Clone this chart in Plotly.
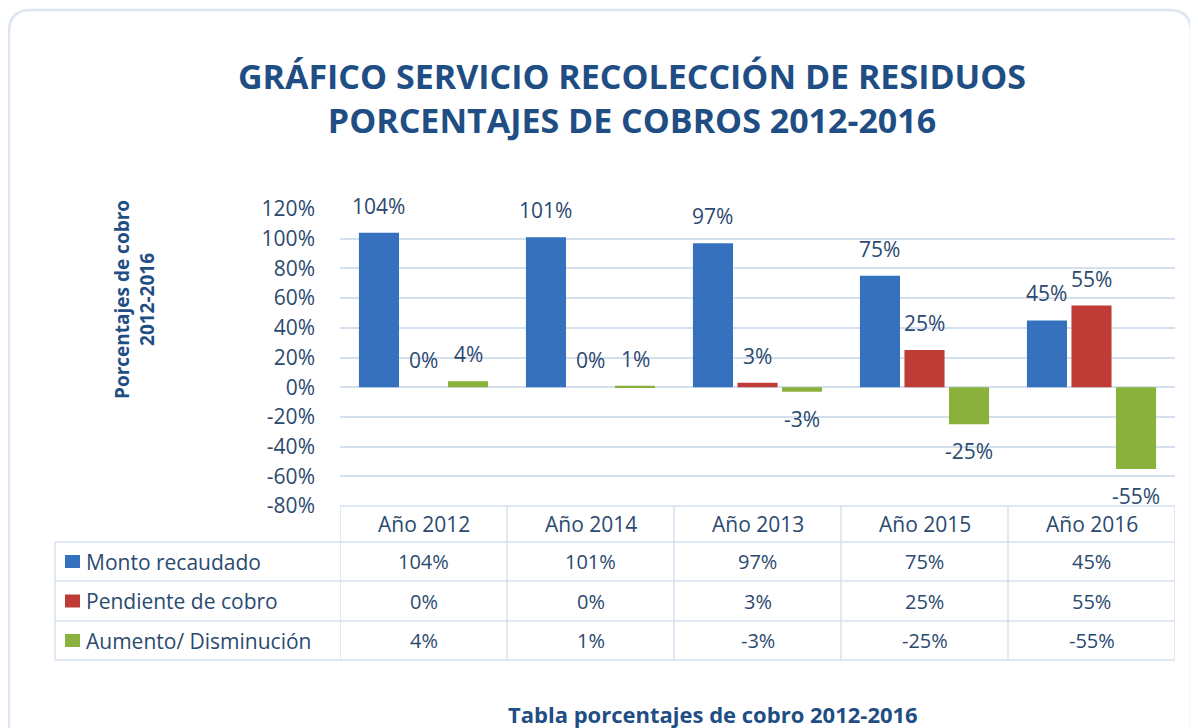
import plotly.graph_objects as go

categories = ["Año 2012", "Año 2014", "Año 2013", "Año 2015", "Año 2016"]
series_names = ["Monto recaudado", "Pendiente de cobro", "Aumento/ Disminución"]
monto = [104, 101, 97, 75, 45]
pendiente = [0, 0, 3, 25, 55]
aumento = [4, 1, -3, -25, -55]
series_values = [monto, pendiente, aumento]
colors = ["#3671BE", "#BF3B36", "#8AB13B"]
ytick_vals = [-80, -60, -40, -20, 0, 20, 40, 60, 80, 100, 120]
ytick_text = [f"{v}%" for v in ytick_vals]

TXT = "#2B4A6F"
TITLE = "#1F4E85"
GRID = "#D5E0EF"
FONT = "Open Sans"

# page offset (body margin) and figure size
OX, OY = 8, 8
W, H = 1190, 720
L, R, T, B = 332, 23, 201, 222
PW, PH = W - L - R, H - T - B
BARGAP, GROUPGAP = 0.2, 0.1


def px_y(y):  # page pixel y -> paper
    return (H - B - (y - OY)) / PH


def px_x(x):  # page pixel x -> paper
    return (x - OX - L) / PW


fig = go.Figure()
for name, vals, col in zip(series_names, series_values, colors):
    fig.add_trace(go.Bar(
        x=categories, y=vals, name=name, marker=dict(color=col, line=dict(width=0)),
        showlegend=False,
    ))

shapes = []
annotations = []

# data labels
slot = PW / len(categories) * (1 - BARGAP) / len(series_names)
for s, vals in enumerate(series_values):
    for c, v in zip(categories, vals):
        annotations.append(dict(
            x=c, xref="x", y=v, yref="y", xshift=(s - 1) * slot,
            yshift=27 if v >= 0 else -27, yanchor="middle", xanchor="center",
            text=f"{v}%", showarrow=False, font=dict(family=FONT, size=21, color=TXT)))

# table row boundaries (page pixel y)
row_lines = [506, 542, 581, 621, 660]
line_style = dict(color=GRID, width=1.5)
shapes.append(dict(type="line", xref="x", yref="paper", x0=-0.5, x1=4.5,
                   y0=px_y(row_lines[0]), y1=px_y(row_lines[0]), line=line_style))
for ry in row_lines[1:]:
    shapes.append(dict(type="line", xref="paper", yref="paper", x0=px_x(55), x1=1,
                       y0=px_y(ry), y1=px_y(ry), line=line_style))
for i in range(len(categories) + 1):
    shapes.append(dict(type="line", xref="x", yref="paper", x0=i - 0.5, x1=i - 0.5,
                       y0=px_y(row_lines[0]), y1=px_y(row_lines[-1]), line=line_style))
shapes.append(dict(type="line", xref="paper", yref="paper", x0=px_x(55), x1=px_x(55),
                   y0=px_y(row_lines[1]), y1=px_y(row_lines[-1]), line=line_style))

# header texts
for c in categories:
    annotations.append(dict(x=c, xref="x", y=px_y((row_lines[0] + row_lines[1]) / 2), yref="paper",
                            xanchor="center", yanchor="middle",
                            text=c, showarrow=False, font=dict(family=FONT, size=21, color=TXT)))
# rows
for r, (name, vals, col) in enumerate(zip(series_names, series_values, colors)):
    yc = (row_lines[r + 1] + row_lines[r + 2]) / 2
    shapes.append(dict(type="rect", xref="paper", yref="paper",
                       x0=px_x(65), x1=px_x(80), y0=px_y(yc + 6.5), y1=px_y(yc - 6.5),
                       fillcolor=col, line=dict(width=0)))
    annotations.append(dict(x=px_x(84), xref="paper", y=px_y(yc), yref="paper",
                            xanchor="left", yanchor="middle",
                            text=name, showarrow=False, font=dict(family=FONT, size=21, color=TXT)))
    for c, v in zip(categories, vals):
        annotations.append(dict(x=c, xref="x", y=px_y(yc), yref="paper", text=f"{v}%",
                                xanchor="center", yanchor="middle",
                                showarrow=False, font=dict(family=FONT, size=20, color=TXT)))

# y-axis title
annotations.append(dict(x=px_x(134), xref="paper", y=px_y(300), yref="paper",
                        xanchor="center", yanchor="middle",
                        text="<b>Porcentajes de cobro<br>2012-2016</b>", textangle=-90,
                        showarrow=False, font=dict(family=FONT, size=19, color=TITLE)))
# bottom caption
annotations.append(dict(x=px_x(713), xref="paper", y=px_y(714), yref="paper",
                        xanchor="center", yanchor="middle",
                        text="<b>Tabla porcentajes de cobro 2012-2016</b>",
                        showarrow=False, font=dict(family=FONT, size=22, color=TITLE)))


def P(x, y):
    return f"{px_x(x)},{px_y(y)}"


rr = 22
x0, y0, x1, y1 = 9, 10, 1191, 760
path = (f"M {P(x0, y1)} L {P(x0, y0 + rr)} Q {P(x0, y0)} {P(x0 + rr, y0)} "
        f"L {P(x1 - rr, y0)} Q {P(x1, y0)} {P(x1, y0 + rr)} L {P(x1, y1)}")
shapes.append(dict(type="path", xref="paper", yref="paper", path=path,
                   line=dict(color="#DCE6F3", width=2.5), layer="below"))

fig.update_layout(
    width=W, height=H,
    margin=dict(l=L, r=R, t=T, b=B),
    paper_bgcolor="white", plot_bgcolor="white",
    barmode="group", bargap=BARGAP, bargroupgap=GROUPGAP,
    title=dict(text="<b>GRÁFICO SERVICIO RECOLECCIÓN DE RESIDUOS<br>PORCENTAJES DE COBROS 2012-2016</b>",
               x=(632 - OX) / W, xref="container", xanchor="center",
               y=1 - (89 - OY) / H, yref="container", yanchor="middle",
               font=dict(family=FONT, size=34, color=TITLE)),
    xaxis=dict(showticklabels=False, showgrid=False, zeroline=False, showline=False,
               range=[-0.5, 4.5]),
    yaxis=dict(range=[-80, 120], tickmode="array", tickvals=ytick_vals, ticktext=ytick_text,
               showgrid=True, gridcolor=GRID, gridwidth=1.5,
               zeroline=True, zerolinecolor=GRID, zerolinewidth=1.5,
               showline=False, ticks="", ticklabelstandoff=24,
               tickfont=dict(family=FONT, size=21, color=TXT)),
    shapes=shapes, annotations=annotations,
    font=dict(family=FONT),
)

fig.write_html("out.html")
